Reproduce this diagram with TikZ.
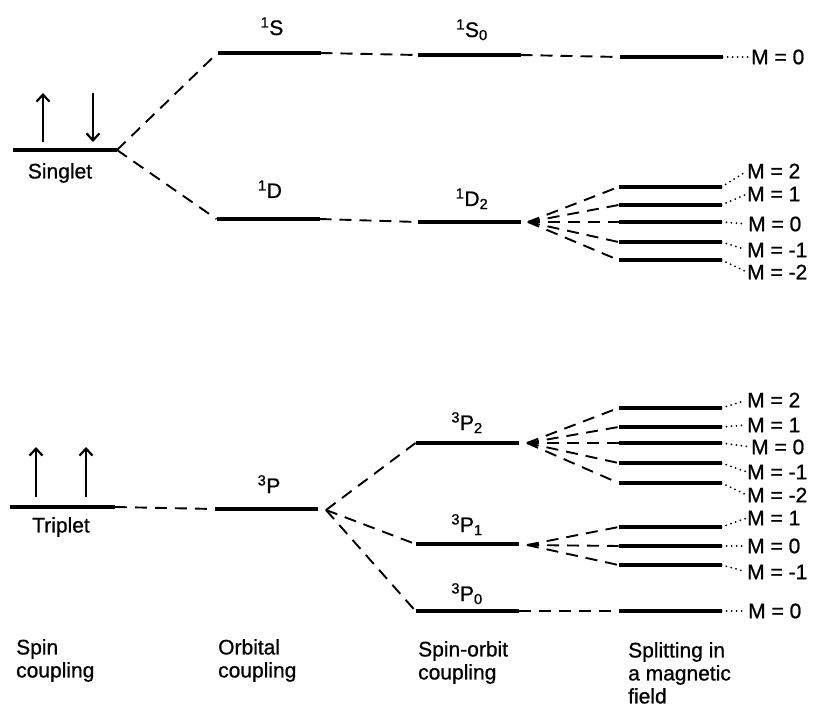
\documentclass[tikz,border=0pt]{standalone}
\usepackage{fontspec}
\setmainfont[FakeBold=0.8]{Liberation Sans}
\usetikzlibrary{arrows.meta}
\begin{document}
\begin{tikzpicture}[x=1pt,y=-1pt,
  lev/.style={fill=black, minimum width=103pt, minimum height=4.2pt, inner sep=0pt, outer sep=0pt},
  dl/.style={line width=1.9pt, dash pattern=on 12pt off 8pt},
  dt/.style={line width=2pt, dash pattern=on 0pt off 5pt, line cap=round, shorten >=2pt},
  lab/.style={font=\fontsize{21}{23}\selectfont, inner sep=0pt},
  ml/.style={lab, anchor=west},
  bl/.style={lab, anchor=base},
  colcap/.style={lab, anchor=north west, align=left},
  spinarrow/.style={line width=2.2pt, -{Straight Barb[length=7pt,width=13pt,line width=2.2pt]}}]
\useasboundingbox (0,0) rectangle (821,719);

% spin states
\node[lev, minimum width=104pt] (sing) at (65,150) {};
\node[lev, minimum width=105pt] (trip) at (62.5,507) {};
\draw[spinarrow] (43,142) -- (43,93);
\draw[spinarrow] (93,93) -- (93,142);
\draw[spinarrow] (36,497) -- (36,447);
\draw[spinarrow] (86,497) -- (86,447);
\node[lab] (tsing) at (60,173) {Singlet};
\node[lab] (ttrip) at (61,527) {Triplet};

% orbital coupling
\node[lev] (S) at (269,53) {};
\node[lev] (D) at (268,219) {};
\node[lev] (P) at (266,509) {};
\node[bl] (tS) at (272,35) {\textsuperscript{1}S};
\node[bl] (tD) at (270,198) {\textsuperscript{1}D};
\node[bl] (tP) at (269,493) {\textsuperscript{3}P};

% spin-orbit coupling
\node[lev] (S0) at (469,55) {};
\node[lev] (D2) at (469,222) {};
\node[lev] (P2) at (467,443) {};
\node[lev] (P1) at (467,544) {};
\node[lev] (P0) at (467,611) {};
\node[bl] (tS0) at (472,37) {\textsuperscript{1}S\textsubscript{0}};
\node[bl] (tD2) at (472,206) {\textsuperscript{1}D\textsubscript{2}};
\node[bl] (tP2) at (467,430) {\textsuperscript{3}P\textsubscript{2}};
\node[bl] (tP1) at (467,532) {\textsuperscript{3}P\textsubscript{1}};
\node[bl] (tP0) at (467,601) {\textsuperscript{3}P\textsubscript{0}};

% magnetic splitting levels
\node[lev] (mS) at (671,57) {};
\node[lev] (d2) at (670,187) {};
\node[lev] (d1) at (670,205) {};
\node[lev] (d0) at (670,222) {};
\node[lev] (dm1) at (670,242) {};
\node[lev] (dm2) at (670,260) {};
\node[lev] (p2) at (670,408) {};
\node[lev] (p1) at (670,427) {};
\node[lev] (p0) at (670,443) {};
\node[lev] (pm1) at (670,463) {};
\node[lev] (pm2) at (670,483) {};
\node[lev] (q1) at (670,527) {};
\node[lev] (q0) at (670,546) {};
\node[lev] (qm1) at (670,565) {};
\node[lev] (r0) at (670,611) {};

% M labels
\node[ml] (lS) at (751,57) {M = 0};
\node[ml] (ld2) at (747,171) {M = 2};
\node[ml] (ld1) at (747,194) {M = 1};
\node[ml] (ld0) at (748,224) {M = 0};
\node[ml] (ldm1) at (747,250) {M = -1};
\node[ml] (ldm2) at (747,272) {M = -2};
\node[ml] (lp2) at (747,400) {M = 2};
\node[ml] (lp1) at (747,425) {M = 1};
\node[ml] (lp0) at (751,447) {M = 0};
\node[ml] (lpm1) at (747,472) {M = -1};
\node[ml] (lpm2) at (747,495) {M = -2};
\node[ml] (lq1) at (747,518) {M = 1};
\node[ml] (lq0) at (747,546) {M = 0};
\node[ml] (lqm1) at (747,572) {M = -1};
\node[ml] (lr0) at (748,611) {M = 0};

% fan points
\coordinate (fD) at (528,222);
\coordinate (fP) at (326,510);
\coordinate (fP2) at (527,443);
\coordinate (fP1) at (527,545);

% dashed connectors
\draw[dl] (sing.east) -- (S.west);
\draw[dl] (sing.east) -- (D.west);
\draw[dl] (S.east) -- (S0.west);
\draw[dl] (S0.east) -- (mS.west);
\draw[dl] (D.east) -- (D2.west);
\foreach \t in {d2,d1,d0,dm1,dm2} \draw[dl] (fD) -- (\t.west);
\draw[dl] (trip.east) -- (P.west);
\foreach \t in {P2,P1,P0} \draw[dl] (fP) -- (\t.west);
\foreach \t in {p2,p1,p0,pm1,pm2} \draw[dl] (fP2) -- (\t.west);
\foreach \t in {q1,q0,qm1} \draw[dl] (fP1) -- (\t.west);
\draw[dl] (P0.east) -- (r0.west);

% dotted connectors
\draw[dt] (mS.east) -- (lS.west);
\draw[dt] (d2.east) -- (ld2.west);
\draw[dt] (d1.east) -- (ld1.west);
\draw[dt] (d0.east) -- (ld0.west);
\draw[dt] (dm1.east) -- (ldm1.west);
\draw[dt] (dm2.east) -- (ldm2.west);
\draw[dt] (p2.east) -- (lp2.west);
\draw[dt] (p1.east) -- (lp1.west);
\draw[dt] (p0.east) -- (lp0.west);
\draw[dt] (pm1.east) -- (lpm1.west);
\draw[dt] (pm2.east) -- (lpm2.west);
\draw[dt] (q1.east) -- (lq1.west);
\draw[dt] (q0.east) -- (lq0.west);
\draw[dt] (qm1.east) -- (lqm1.west);
\draw[dt] (r0.east) -- (lr0.west);

% column captions
\node[colcap] (c1) at (16,639) {Spin\\coupling};
\node[colcap] (c2) at (218,639) {Orbital\\coupling};
\node[colcap] (c3) at (418,641) {Spin-orbit\\coupling};
\node[colcap] (c4) at (628,642) {Splitting in\\a magnetic\\field};
\end{tikzpicture}
\end{document}
